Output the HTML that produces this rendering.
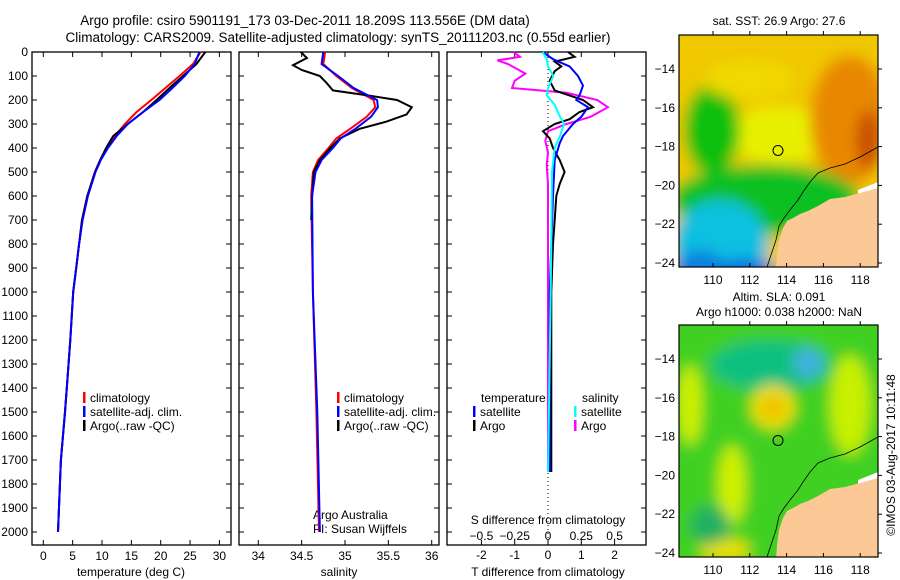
<!DOCTYPE html>
<html><head><meta charset="utf-8"><style>
body{margin:0;background:#fff;}
svg{display:block;font-family:"Liberation Sans",sans-serif;}
</style></head><body>
<svg id="c" width="900" height="580" viewBox="0 0 900 580">
<defs>
<clipPath id="m1"><rect x="679" y="35" width="199" height="232"/></clipPath>
<clipPath id="m2"><rect x="679" y="325" width="199" height="232"/></clipPath>
<filter id="bl" filterUnits="userSpaceOnUse" x="600" y="0" width="300" height="580"><feGaussianBlur stdDeviation="7"/></filter>
</defs>
<text x="305" y="25" font-size="13.5" text-anchor="middle">Argo profile: csiro 5901191_173 03-Dec-2011 18.209S 113.556E (DM data)</text>
<text x="338" y="42" font-size="13.5" text-anchor="middle">Climatology: CARS2009. Satellite-adjusted climatology: synTS_20111203.nc (0.55d earlier)</text>
<g id="plots"></g>
<g id="maps"></g>
</svg>
<script>
// ---- data ----
const depthT = [0,50,100,150,200,250,300,350,400,450,500,600,700,800,900,1000,1200,1400,1500,1700,2000];
const tempArgo = [27.6,26.1,23.8,21.5,19.3,17.0,14.4,11.9,10.7,9.7,8.8,7.5,6.6,6.1,5.6,5.1,4.6,4.0,3.7,3.0,2.5];
const tempClim = [26.8,25.5,23.2,20.8,18.4,15.9,13.9,12.2,10.8,9.7,8.8,7.5,6.6,6.1,5.6,5.1,4.6,4.0,3.7,3.0,2.5];
const tempSat  = [26.6,25.8,24.1,22.0,19.8,17.0,14.4,12.5,11.0,9.8,8.9,7.6,6.7,6.1,5.6,5.1,4.6,4.0,3.7,3.0,2.5];
const depthSA = [0,25,55,75,100,130,160,180,200,230,260,290,320,360,400,450,500,600,700];
const salArgo = [34.49,34.56,34.40,34.50,34.71,34.79,34.86,35.25,35.60,35.77,35.71,35.48,35.17,34.94,34.83,34.71,34.64,34.62,34.61];
const depthS = [0,50,100,150,200,230,270,320,360,400,450,500,600,1000,1500,2000];
const salClim = [34.77,34.75,34.90,35.08,35.33,35.35,35.25,35.06,34.90,34.81,34.69,34.63,34.61,34.63,34.67,34.70];
const salSat  = [34.75,34.73,34.92,35.10,35.37,35.38,35.30,35.12,34.95,34.86,34.73,34.66,34.62,34.63,34.68,34.71];
const depthD1 = [0,20,40,60,80,120,160,200,230,250,280,300,330,360,400,450,500,550,600,700,800,1000,1750];
const dTArgo = [0.6,0.8,0.2,0.4,0.2,0.05,0.2,1.05,1.35,0.95,0.65,0.2,-0.15,0.05,0.15,0.35,0.5,0.35,0.25,0.2,0.15,0.1,0.1];
const depthD2 = [0,30,60,100,140,180,200,230,270,300,350,380,450,600,1000,1750];
const dTSat = [-0.15,0.15,0.65,0.9,1.05,0.95,0.85,1.2,1.0,0.75,0.45,0.35,0.2,0.15,0.05,0.05];
const depthD3 = [0,20,35,50,90,120,150,170,200,230,270,300,330,370,420,470,550,1000,1750];
const dSArgo = [-0.26,-0.21,-0.38,-0.30,-0.17,-0.25,-0.27,0.14,0.37,0.45,0.32,0.14,0.0,-0.02,0.0,-0.01,0.0,0.0,0.0];
const depthD4 = [0,30,60,100,150,180,220,270,300,350,400,500,1000,1750];
const dSSat = [-0.04,-0.01,0,0.04,0,-0.01,0.05,0.09,0.12,0.09,0.05,0.03,0.02,0.0];
const depthTicks = [0,100,200,300,400,500,600,700,800,900,1000,1100,1200,1300,1400,1500,1600,1700,1800,1900,2000];
const tempTicks = [0,5,10,15,20,25,30];
const salTicks = [34,34.5,35,35.5,36];
const dTTicks = [-2,-1,0,1,2];
const dSTicks = ["-0.5","-0.25","0","0.25","0.5"];
const lonTicks = [110,112,114,116,118];
const latTicks = [14,16,18,20,22,24];

const NS="http://www.w3.org/2000/svg";
function mk(tag,attrs,parent,txt){const e=document.createElementNS(NS,tag);for(const k in attrs)e.setAttribute(k,attrs[k]);if(txt!==undefined)e.textContent=txt;parent.appendChild(e);return e;}
const P=document.getElementById('plots');
const yD=d=>52+d*0.24;
const TOP=52,BOT=545;
const panels=[{x0:32,x1:231},{x0:239,x1:439},{x0:447,x1:646}];
const xT=t=>43.3+t*5.87;
const xS=s=>258.3+(s-34)*86.7;
const xdT=t=>548+t*33.3;
const xdS=s=>548+s*133.2;

panels.forEach((p,i)=>{
  const r=mk('rect',{x:p.x0,y:TOP,width:p.x1-p.x0,height:BOT-TOP,fill:'none',stroke:'#000','stroke-width':1.3},P);
  
  
  depthTicks.forEach(d=>{
    mk('line',{x1:p.x0,x2:p.x0+5,y1:yD(d),y2:yD(d),stroke:'#000'},P);
    mk('line',{x1:p.x1-5,x2:p.x1,y1:yD(d),y2:yD(d),stroke:'#000'},P);
  });
});
depthTicks.forEach(d=>{
  const t=mk('text',{x:28,y:yD(d)+4,'font-size':12,'text-anchor':'end'},P,String(d));
  
  
});
function xticks(vals,fx,p,labels,ly){
  vals.forEach((v,i)=>{
    const x=fx(v);
    mk('line',{x1:x,x2:x,y1:BOT-5,y2:BOT,stroke:'#000'},P);
    mk('line',{x1:x,x2:x,y1:TOP,y2:TOP+5,stroke:'#000'},P);
    const t=mk('text',{x:x,y:ly,'font-size':12,'text-anchor':'middle'},P,labels?labels[i]:String(v));
    
    
  });
}
xticks(tempTicks,xT,panels[0],null,560);
xticks(salTicks,xS,panels[1],null,560);
xticks(dTTicks,xdT,panels[2],null,559);
dSTicks.forEach(s=>{const t=mk('text',{x:xdS(parseFloat(s)),y:540,'font-size':12,'text-anchor':'middle'},P,s.replace('-','\u2212'));
  
  });
function lab(x,y,s,name,anchor){const t=mk('text',{x:x,y:y,'font-size':12,'text-anchor':anchor||'middle'},P,s);
  
  return t;}
lab(131,576,'temperature (deg C)','x-axis-title-temperature');
lab(339,576,'salinity','x-axis-title-salinity');
lab(548,576,'T difference from climatology','x-axis-title-t-diff');
lab(548,524,'S difference from climatology','s-diff-axis-title');
lab(313,519,'Argo Australia','credit-line-1','start');
lab(313,533,'PI: Susan Wijffels','credit-line-2','start');
const z=mk('line',{x1:548,x2:548,y1:TOP+5,y2:BOT-5,stroke:'#000','stroke-dasharray':'1,3'},P);



function line(ds,vs,fx,col,name,w){
  const pts=ds.map((d,i)=>fx(vs[i]).toFixed(1)+','+yD(d).toFixed(1)).join(' ');
  const l=mk('polyline',{points:pts,fill:'none',stroke:col,'stroke-width':w||2},P);
  
  
}
line(depthT,tempClim,xT,'#f00','temp-climatology-line');
line(depthT,tempArgo,xT,'#000','temp-argo-line');
line(depthT,tempSat,xT,'#00f','temp-satellite-line');
line(depthS,salClim,xS,'#f00','sal-climatology-line');
line(depthSA,salArgo,xS,'#000','sal-argo-line');
line(depthS,salSat,xS,'#00f','sal-satellite-line');
line(depthD3,dSArgo,xdS,'#f0f','s-diff-argo-line');
line(depthD1,dTArgo,xdT,'#000','t-diff-argo-line');
line(depthD2,dTSat,xdT,'#00f','t-diff-satellite-line');
line(depthD4,dSSat,xdS,'#0ff','s-diff-satellite-line');

function legend(x,y,col,txt,name){
  const b=mk('rect',{x:x,y:y-10,width:2.5,height:11,fill:col},P);
  
  
  lab(x+7,y,txt,name,'start');
}
[[83,'#f00','climatology'],[83,'#00f','satellite-adj. clim.'],[83,'#000','Argo(..raw -QC)']].forEach((e,i)=>legend(e[0],402+i*14,e[1],e[2],'legend-temp-'+i));
[[337,'#f00','climatology'],[337,'#00f','satellite-adj. clim.'],[337,'#000','Argo(..raw -QC)']].forEach((e,i)=>legend(e[0],402+i*14,e[1],e[2],'legend-sal-'+i));
lab(481,402,'temperature','legend-heading-temperature','start');
lab(582,402,'salinity','legend-heading-salinity','start');
legend(473,416,'#00f','satellite','legend-t-satellite');
legend(473,430,'#000','Argo','legend-t-argo');
legend(574,416,'#0ff','satellite','legend-s-satellite');
legend(574,430,'#f0f','Argo','legend-s-argo');

// ---- maps ----
const M=document.getElementById('maps');
const lonX=l=>713+(l-110)*18.4;
function drawMap(top,clip,blobs,base,name){
  const g=mk('g',{'clip-path':'url(#'+clip+')'},M);
  
  
  const bg=mk('g',{filter:'url(#bl)'},g);
  mk('rect',{x:650,y:top-30,width:260,height:290,fill:base},bg);
  blobs.forEach(b=>mk('ellipse',{cx:b[0],cy:top+b[1],rx:b[2],ry:b[3],fill:b[4]},bg));
  const latY=l=>top+34+(l-14)*19.4;
  const off=top-35;
  const land=[[878,188],[860,193],[845,197],[830,199],[818,206],[808,211],[800,214],[793,218],[787,221],[783,228],[779,240],[777,255],[776,270],[880,270]];
  mk('polygon',{points:'878,'+(off+182)+' 878,'+(off+190)+' 858,'+(off+196)+' 858,'+(off+190),fill:'#fff'},g);
  mk('polygon',{points:land.map(p=>p[0]+','+(off+p[1])).join(' '),fill:'#fcc896'},g);
  mk('polyline',{points:[[878,147],[860,157],[845,164],[830,168],[818,173],[810,182],[803,192],[798,200],[790,210],[784,218],[779,226],[776,240],[772,252],[767,267]].map(p=>p[0]+','+(off+p[1])).join(' '),fill:'none',stroke:'#000','stroke-width':0.8},g);
  const fr=mk('rect',{x:679,y:top,width:199,height:232,fill:'none',stroke:'#000','stroke-width':1.2},M);
  
  
  lonTicks.forEach(l=>{const x=lonX(l);
    mk('line',{x1:x,x2:x,y1:top+232,y2:top+228,stroke:'#000'},M);
    mk('line',{x1:x,x2:x,y1:top,y2:top-4,stroke:'#000'},M);
    const t=mk('text',{x:x,y:top+249,'font-size':12,'text-anchor':'middle'},M,String(l));
    
    });
  latTicks.forEach(l=>{const y=latY(l);
    mk('line',{x1:878,x2:882,y1:y,y2:y,stroke:'#000'},M);
    const t=mk('text',{x:675,y:y+4,'font-size':12,'text-anchor':'end'},M,'\u2212'+l);
    
    });
  const c=mk('circle',{cx:778,cy:latY(18.2),r:5,fill:'none',stroke:'#000','stroke-width':1},M);
  
  
}
drawMap(35,'m1',[
  [780,100,50,28,'#e8f000'],[850,85,40,65,'#e88800'],[868,105,12,30,'#c85000'],
  [712,95,28,45,'#10c010'],[765,165,95,35,'#10c020'],[830,200,35,22,'#20d020'],
  [720,210,48,45,'#10c0e0'],[700,245,30,30,'#1080e0'],[745,245,35,22,'#1070e0'],
  [728,258,18,10,'#001890'],[750,45,45,20,'#f0d800']
],'#f0c800','sst-map');
const t1=mk('text',{x:779,y:25,'font-size':12,'text-anchor':'middle'},M,'sat. SST: 26.9 Argo: 27.6');


drawMap(325,'m2',[
  [770,40,60,25,'#10c080'],[808,38,15,15,'#40b0e0'],[773,82,22,22,'#f0e000'],[773,82,12,12,'#f0c000'],
  [732,160,14,40,'#d0f000'],[690,80,12,40,'#d0f000'],[850,80,20,50,'#c8f000'],[725,225,25,12,'#e8e000'],
  [710,200,20,20,'#20b060'],[860,200,20,15,'#80e000']
],'#40d020','sla-map');
const t2=mk('text',{x:779,y:301,'font-size':12,'text-anchor':'middle'},M,'Altim. SLA: 0.091');


const t3=mk('text',{x:779,y:316,'font-size':12,'text-anchor':'middle'},M,'Argo h1000: 0.038 h2000: NaN');


const t4=mk('text',{x:0,y:0,'font-size':12,'text-anchor':'middle',transform:'translate(895,455) rotate(-90)'},M,'\u00a9IMOS 03-Aug-2017 10:11:48');


</script>
</body></html>
